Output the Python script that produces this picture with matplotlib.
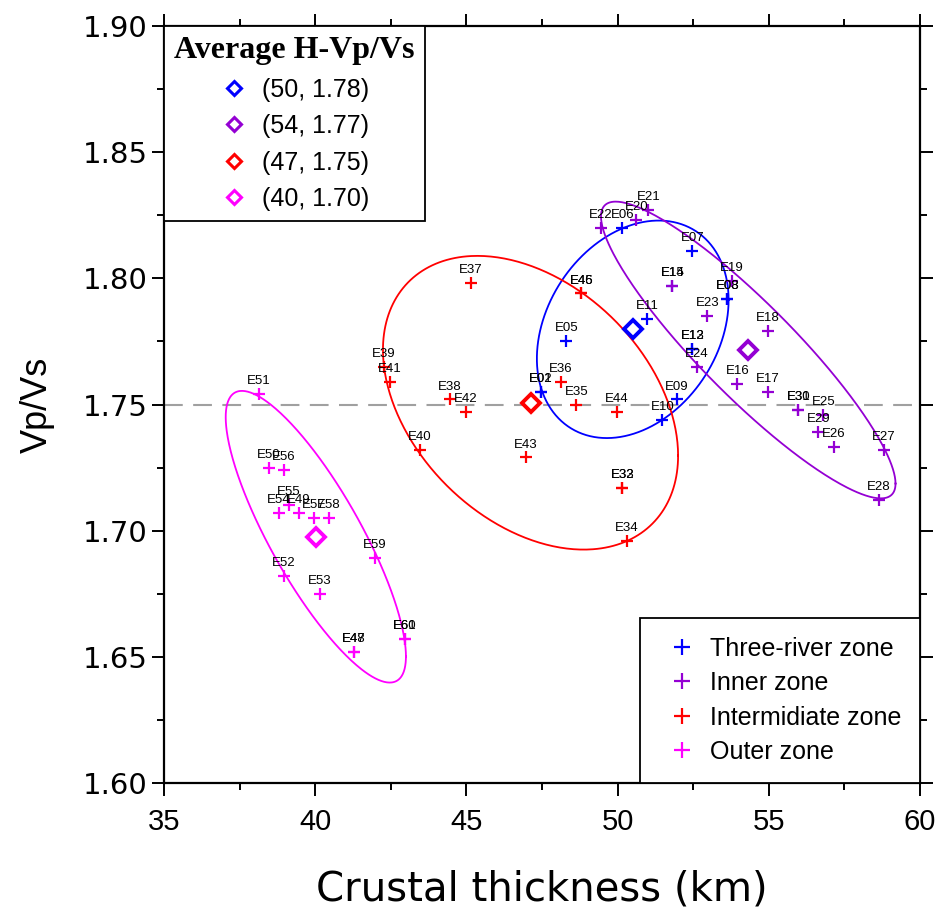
import numpy as np
import matplotlib
matplotlib.use("Agg")
import matplotlib.pyplot as plt
from matplotlib.lines import Line2D

# station values: crustal thickness H (km) and Vp/Vs
three_names = ["E01", "E02", "E03", "E08", "E05", "E06", "E07", "E09", "E10", "E11", "E12", "E13", "E14"]
three_h = [47.45, 47.45, 53.63, 53.63, 48.30, 50.16, 52.47, 51.97, 51.48, 50.98, 52.47, 52.47, 51.81]
three_k = [1.755, 1.755, 1.792, 1.792, 1.775, 1.820, 1.811, 1.752, 1.744, 1.784, 1.772, 1.772, 1.797]

inner_names = ["E15", "E16", "E17", "E18", "E19", "E20", "E21", "E22", "E23", "E24",
               "E25", "E26", "E27", "E28", "E29", "E30", "E31"]
inner_h = [51.81, 53.96, 54.98, 54.98, 53.79, 50.62, 51.02, 49.44, 52.97, 52.63,
           56.80, 57.16, 58.81, 58.64, 56.64, 55.98, 55.98]
inner_k = [1.797, 1.758, 1.755, 1.779, 1.799, 1.823, 1.827, 1.820, 1.785, 1.765,
           1.746, 1.733, 1.732, 1.712, 1.739, 1.748, 1.748]

inter_names = ["E32", "E33", "E34", "E35", "E36", "E37", "E38", "E39", "E40", "E41",
               "E42", "E43", "E44", "E45", "E46"]
inter_h = [50.16, 50.16, 50.30, 48.64, 48.12, 45.14, 44.45, 42.28, 43.47, 42.46,
           44.97, 46.96, 49.97, 48.80, 48.80]
inter_k = [1.717, 1.717, 1.696, 1.750, 1.759, 1.798, 1.752, 1.765, 1.732, 1.759,
           1.747, 1.729, 1.747, 1.794, 1.794]

outer_names = ["E47", "E48", "E49", "E50", "E51", "E52", "E53", "E54", "E55", "E56",
               "E57", "E58", "E59", "E60", "E61"]
outer_h = [41.28, 41.28, 39.46, 38.47, 38.14, 38.97, 40.15, 38.80, 39.13, 38.97,
           39.96, 40.46, 41.97, 42.97, 42.97]
outer_k = [1.652, 1.652, 1.707, 1.725, 1.754, 1.682, 1.675, 1.707, 1.710, 1.724,
           1.705, 1.705, 1.689, 1.657, 1.657]

zone_labels = ["Three-river zone", "Inner zone", "Intermidiate zone", "Outer zone"]
zone_colors = ["#0000FF", "#9400D3", "#FF0000", "#FF00FF"]

# average H-Vp/Vs of each zone and its ellipse (half widths + correlation)
avg_h = [50.50, 54.32, 47.12, 40.02]
avg_k = [1.7798, 1.7716, 1.7507, 1.6976]
avg_labels = ["(50, 1.78)", "(54, 1.77)", "(47, 1.75)", "(40, 1.70)"]
ell_wh = [3.17, 4.87, 4.88, 2.98]
ell_wk = [0.0431, 0.0588, 0.0582, 0.0578]
ell_rho = [0.27, -0.90, -0.36, -0.82]

fig = plt.figure(figsize=(9.47, 9.16), dpi=100)
ax = fig.add_axes([0.1732, 0.1452, 0.7983, 0.8264])

ax.axhline(1.75, color="#A0A0A0", lw=1.5, dashes=(9, 5), zorder=1)

zones = [
    (three_names, three_h, three_k),
    (inner_names, inner_h, inner_k),
    (inter_names, inter_h, inter_k),
    (outer_names, outer_h, outer_k),
]

t = np.linspace(0, 2 * np.pi, 400)
for i in range(4):
    ex = avg_h[i] + ell_wh[i] * np.cos(t)
    ey = avg_k[i] + ell_wk[i] * (ell_rho[i] * np.cos(t) + np.sqrt(1 - ell_rho[i] ** 2) * np.sin(t))
    ax.plot(ex, ey, color=zone_colors[i], lw=1.3, zorder=2)

for (nm, hh, kk), c in zip(zones, zone_colors):
    ax.plot(hh, kk, ls="none", marker="+", ms=9, mew=1.6, color=c, zorder=3)
    for n, x, y in zip(nm, hh, kk):
        ax.annotate(n, (x, y), xytext=(0, 5), textcoords="offset points",
                    ha="center", va="bottom", fontsize=9.5, family="Liberation Sans", zorder=4)

for i in range(4):
    ax.plot(avg_h[i], avg_k[i], ls="none", marker="D", ms=9.5, mfc="white",
            mec=zone_colors[i], mew=2.8, zorder=5)

ax.set_xlim(35, 60)
ax.set_ylim(1.60, 1.90)
ax.set_xticks(np.arange(35, 60.1, 5))
ax.set_xticks(np.arange(37.5, 60, 5), minor=True)
ax.set_yticks(np.arange(1.60, 1.901, 0.05))
ax.set_yticks(np.arange(1.625, 1.90, 0.05), minor=True)
ax.set_yticklabels(["%.2f" % v for v in np.arange(1.60, 1.901, 0.05)])
ax.tick_params(which="both", direction="out", top=True, right=True, width=1.4)
ax.tick_params(which="major", length=9)
ax.tick_params(which="minor", length=5)
ax.tick_params(axis="x", pad=9, labelsize=21)
ax.tick_params(axis="y", pad=3, labelsize=21)
for lab in ax.get_xticklabels():
    lab.set_family("Liberation Sans")
for sp in ax.spines.values():
    sp.set_linewidth(1.6)

ax.set_xlabel("Crustal thickness (km)", fontsize=29, labelpad=24)
ax.set_ylabel("Vp/Vs", fontsize=26, family="Liberation Sans", labelpad=20)

avg_handles = [Line2D([], [], ls="none", marker="D", ms=7, mfc="white", mec=c, mew=2.2)
               for c in zone_colors]
leg1 = ax.legend(avg_handles, avg_labels, loc="upper left", bbox_to_anchor=(0, 1),
                 borderaxespad=0, fancybox=False, edgecolor="black", framealpha=1,
                 prop={"family": "Liberation Sans", "size": 18},
                 title="Average H-Vp/Vs",
                 title_fontproperties={"family": "Liberation Serif", "weight": "bold", "size": 23},
                 handlelength=1.2, handletextpad=0.5, labelspacing=0.5, borderpad=0.4)
leg1.get_frame().set_linewidth(1.3)
ax.add_artist(leg1)

zone_handles = [Line2D([], [], ls="none", marker="+", ms=12, mew=1.6, color=c)
                for c in zone_colors]
leg2 = ax.legend(zone_handles, zone_labels, loc="lower right", bbox_to_anchor=(1, 0),
                 borderaxespad=0, fancybox=False, edgecolor="black", framealpha=1,
                 prop={"family": "Liberation Sans", "size": 18},
                 handlelength=1.9, handletextpad=0.15, labelspacing=0.42, borderpad=0.75)
leg2.get_frame().set_linewidth(1.3)

fig.savefig("out.png", dpi=100)
